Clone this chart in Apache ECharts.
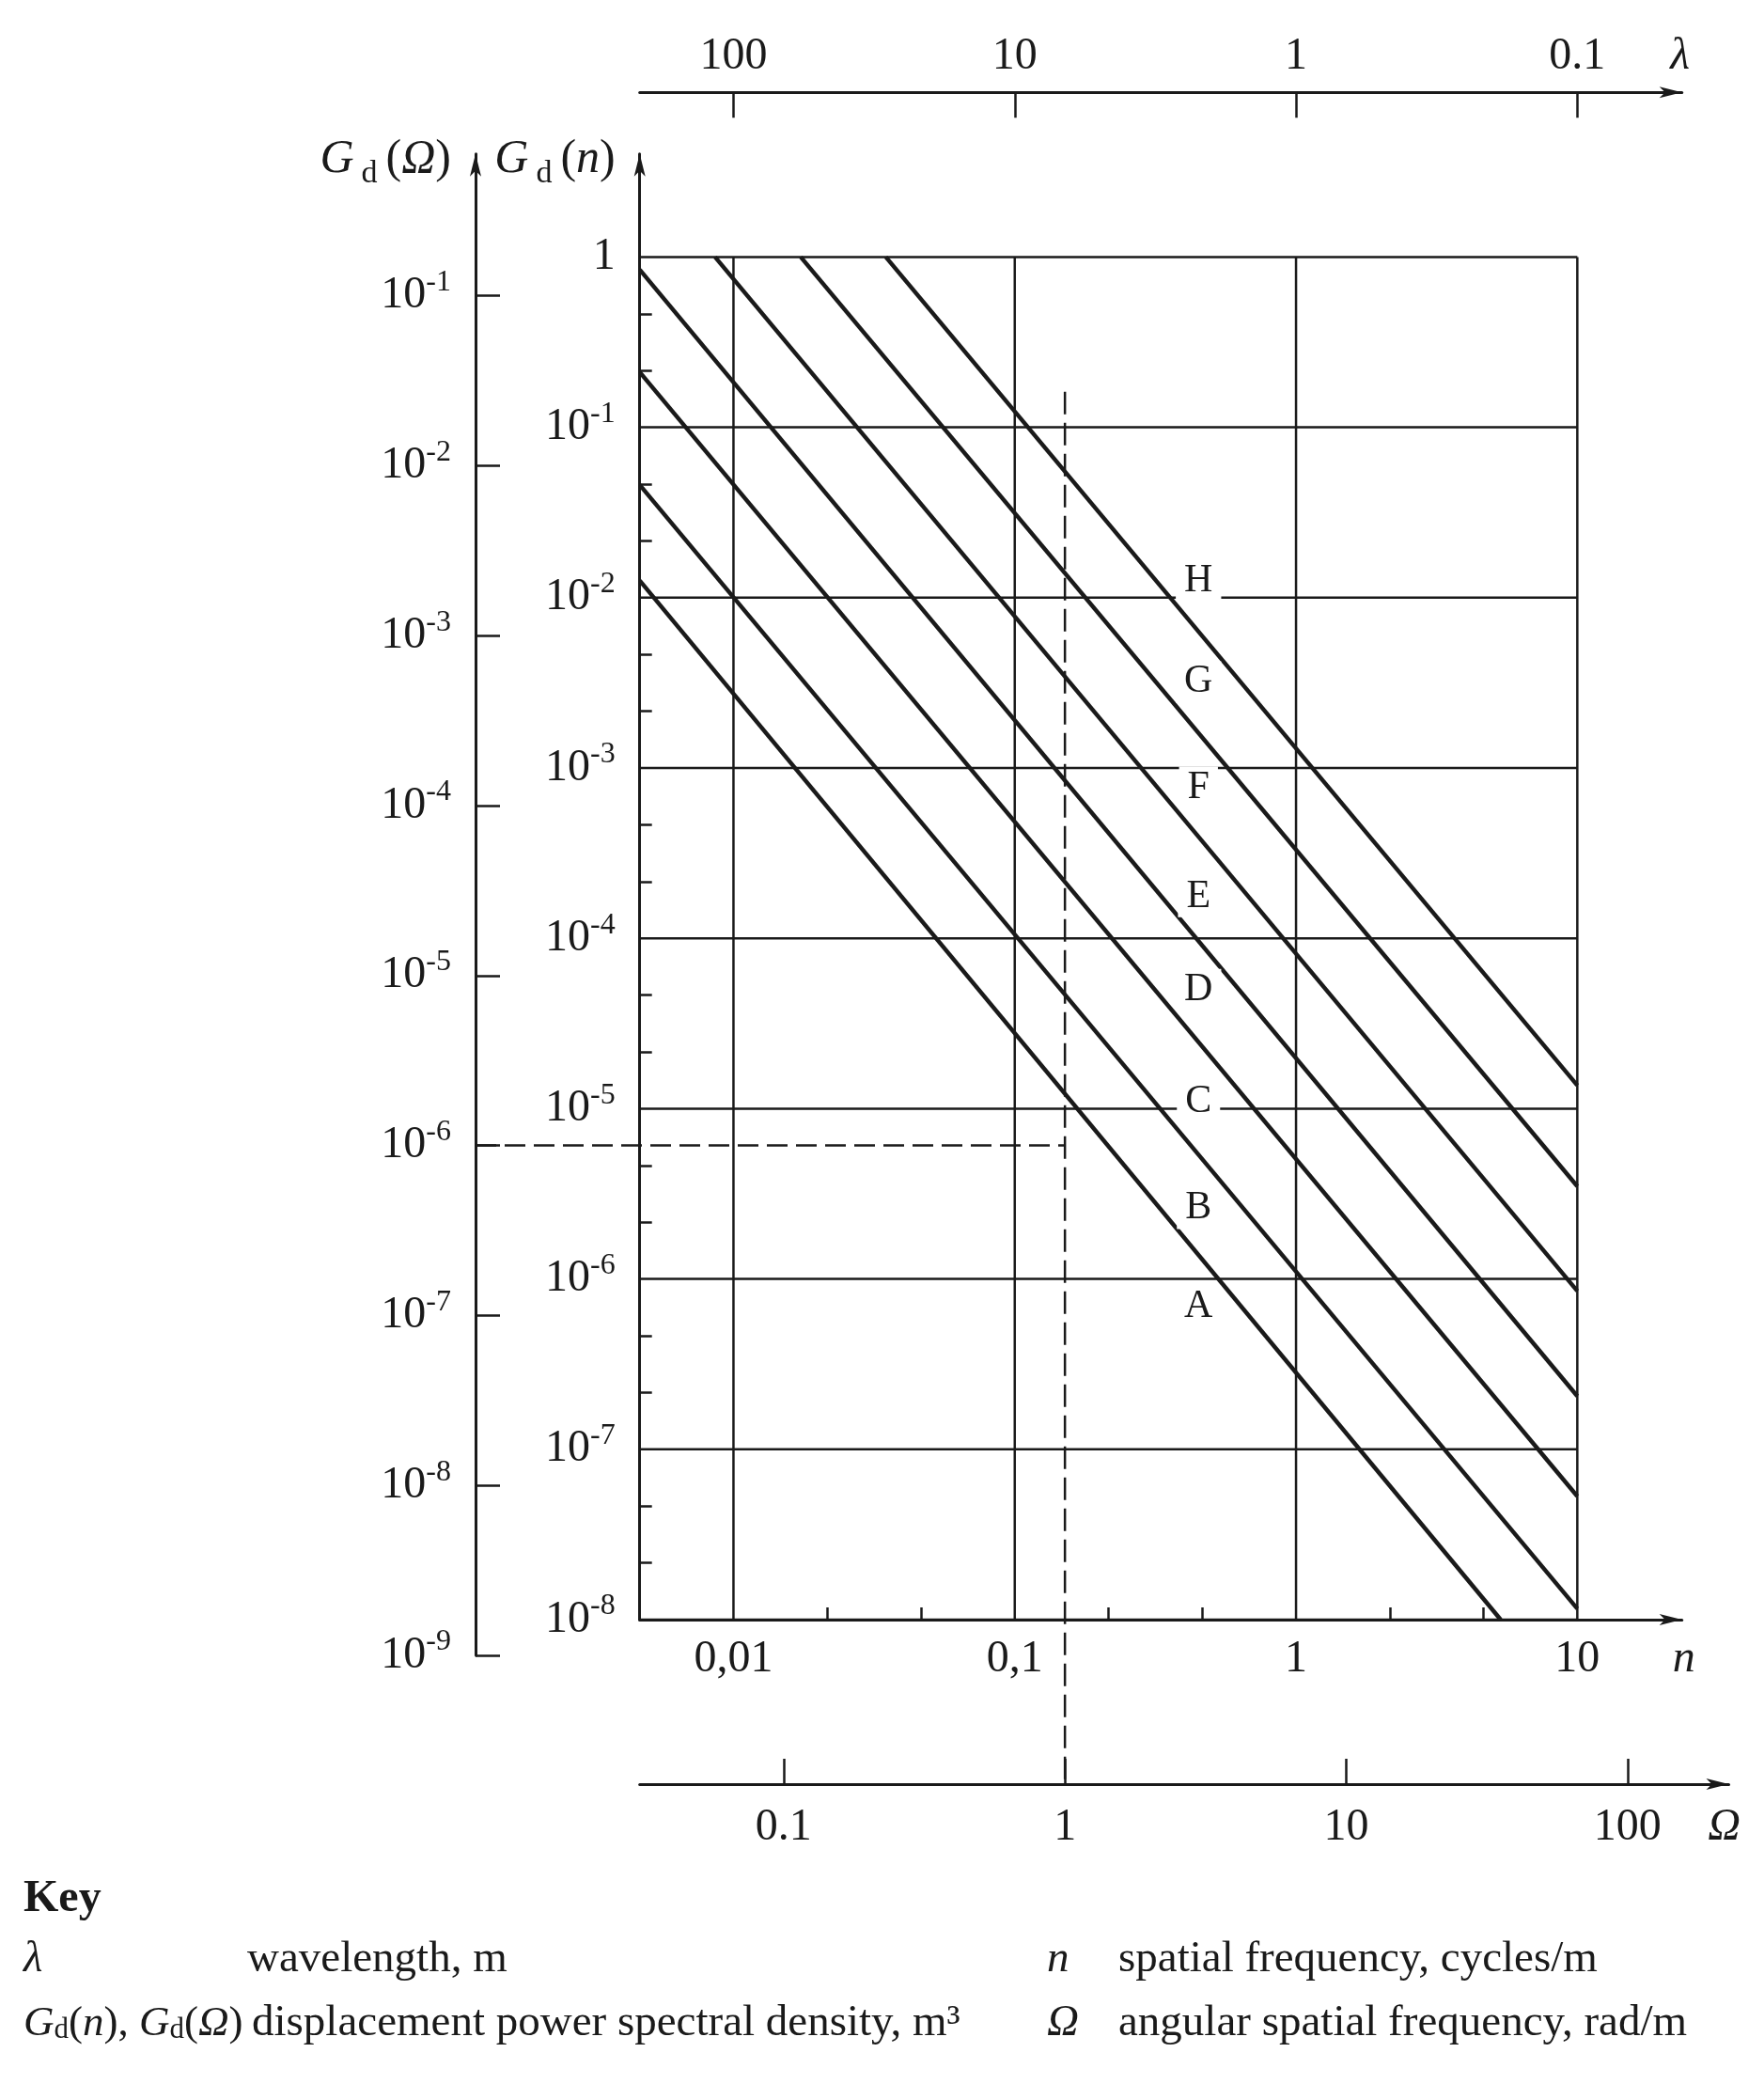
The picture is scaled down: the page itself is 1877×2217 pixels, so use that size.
<!DOCTYPE html>
<html>
<head>
<meta charset="utf-8">
<title>Road roughness classes</title>
<script src="https://cdn.jsdelivr.net/npm/echarts@6.0.0/dist/echarts.min.js"></script>
<style>
  html, body { margin: 0; padding: 0; background: #fff; }
  #main { width: 1877px; height: 2217px; }
</style>
</head>
<body>
<div id="main"></div>
<script>
// ===================== data =====================
const nTicks = [0.01, 0.1, 1, 10]
const nTickLabels = ['0,01', '0,1', '1', '10']
const lambdaTicks = [100, 10, 1, 0.1]
const lambdaTickLabels = ['100', '10', '1', '0.1']
const omegaTicks = [0.1, 1, 10, 100]
const omegaTickLabels = ['0.1', '1', '10', '100']
const gdTicks = [1, 1e-1, 1e-2, 1e-3, 1e-4, 1e-5, 1e-6, 1e-7, 1e-8]
const gdOmegaTicks = [1e-1, 1e-2, 1e-3, 1e-4, 1e-5, 1e-6, 1e-7, 1e-8, 1e-9]
const nMin = 0.004642 // left edge of the chart
// class limit lines A/B ... G/H, ends read off the frame
const limitStartN = [nMin, nMin, nMin, nMin, 0.0086, 0.01734, 0.0348]
const limitStartGd = [0.0126, 0.0459, 0.211, 0.843, 1, 1, 1]
const limitEndN = [5.34, 10, 10, 10, 10, 10, 10]
const limitEndGd = [1e-8, 1.16e-8, 5.3e-8, 2.05e-7, 8.5e-7, 3.5e-6, 1.37e-5]
const classNames = ['A', 'B', 'C', 'D', 'E', 'F', 'G', 'H']
const classLabelN = 0.45
const classLabelGd = [6.9e-7, 2.6e-6, 1.1e-5, 5.0e-5, 1.76e-4, 7.7e-4, 3.2e-3, 1.26e-2]
// dashed reading example
const exampleOmega = 1
const exampleGdOmega = 1e-6
const dashedTopGd = 0.162

// ===================== layout =====================
const FONT = '"Liberation Serif", "DejaVu Serif", serif'
const INK = '#1a1a1a'
const PX_X = 299.3 // px per decade, horizontal
const PX_Y = 181.2 // px per decade, vertical
const lg = Math.log10

const mainGrid = { left: 680.7, top: 163.7, width: 1109, height: 1559.3 }
const omegaGrid = { left: 680.7, top: 163.7, width: 1158.8, height: 1734.3 }
const gdOmegaGrid = { left: 506, top: 163.7, width: 627.6, height: 1597.3 }

const nMinLog = lg(nMin)
const nMaxLog = nMinLog + mainGrid.width / PX_X
const gdMinLog = lg(gdTicks[gdTicks.length - 1])
const gdMaxLog = gdMinLog + mainGrid.height / PX_Y
const omegaMinLog = -1.5117
const omegaMaxLog = omegaMinLog + omegaGrid.width / PX_X
const omegaGdMinLog = gdMaxLog - omegaGrid.height / PX_Y
const gdOmMinLog = lg(gdOmegaTicks[gdOmegaTicks.length - 1])
const gdOmMaxLog = gdOmMinLog + gdOmegaGrid.height / 180.8
const gdOmXMinLog = lg(exampleOmega) - gdOmegaGrid.width / PX_X

// minor ticks at thirds of a decade
const thirds = (decades) => {
  const out = []
  decades.slice(0, -1).forEach((d) => out.push(d + 1 / 3, d + 2 / 3))
  return out
}
const nMinor = thirds(nTicks.map(lg))
const gdMinor = thirds(gdTicks.map(lg).reverse())

const pick = (ticks, labels, v, toLog) =>
  labels[ticks.findIndex((t) => Math.abs(toLog(t) - v) < 1e-6)]

const supRich = {
  b: { fontSize: 48, fontFamily: FONT, color: INK, lineHeight: 60 },
  s: { fontSize: 32, fontFamily: FONT, color: INK, verticalAlign: 'top', lineHeight: 32 },
}
const powLabel = (v) => {
  const e = Math.round(v)
  return e === 0 ? '{b|1}' : '{b|10}{s|' + e + '}'
}
const titleRich = {
  g: { fontSize: 50, fontFamily: FONT, fontStyle: 'italic', color: INK, lineHeight: 64 },
  d: { fontSize: 34, fontFamily: FONT, color: INK, verticalAlign: 'bottom', lineHeight: 42, padding: [0, 9, 0, 8] },
  p: { fontSize: 50, fontFamily: FONT, color: INK, lineHeight: 64 },
}

const axisLine = (arrow) => ({
  show: true,
  onZero: false,
  symbol: arrow ? ['none', 'arrow'] : 'none',
  symbolSize: [9, 24],
  lineStyle: { color: INK, width: 3 },
})
const tickStyle = { color: INK, width: 2.5 }
const labelStyle = { fontSize: 48, fontFamily: FONT, color: INK }
const symbolName = { fontSize: 48, fontFamily: FONT, fontStyle: 'italic', color: INK }

// ===================== series =====================
const yTop = lg(gdTicks[0])
const xRight = lg(nTicks[nTicks.length - 1])
const gridLines = []
gdTicks.forEach((g) => gridLines.push([[nMinLog, lg(g)], [xRight, lg(g)]]))
nTicks.forEach((n) => gridLines.push([[lg(n), gdMinLog], [lg(n), yTop]]))

const series = []
gridLines.forEach((d) => {
  series.push({
    type: 'line', data: d, xAxisIndex: 0, yAxisIndex: 0, symbol: 'none', silent: true, z: 1,
    lineStyle: { color: INK, width: 2.5 },
  })
})
limitStartN.forEach((n, i) => {
  series.push({
    type: 'line', xAxisIndex: 0, yAxisIndex: 0, symbol: 'none', silent: true, z: 2,
    data: [[lg(n), lg(limitStartGd[i])], [lg(limitEndN[i]), lg(limitEndGd[i])]],
    lineStyle: { color: INK, width: 4.5 },
  })
})
series.push({
  type: 'line', xAxisIndex: 2, yAxisIndex: 1, symbol: 'none', silent: true, z: 2,
  data: [[lg(exampleOmega), lg(dashedTopGd)], [lg(exampleOmega), omegaGdMinLog]],
  lineStyle: { color: INK, width: 2.5, type: [24, 9] },
})
series.push({
  type: 'line', xAxisIndex: 3, yAxisIndex: 2, symbol: 'none', silent: true, z: 2,
  data: [[gdOmXMinLog, lg(exampleGdOmega)], [lg(exampleOmega), lg(exampleGdOmega)]],
  lineStyle: { color: INK, width: 2.5, type: [22, 9] },
})
series.push({
  type: 'scatter', xAxisIndex: 0, yAxisIndex: 0, symbolSize: 0, silent: true, z: 5,
  itemStyle: { opacity: 1 },
  data: classNames.map((c, i) => ({ name: c, value: [lg(classLabelN), lg(classLabelGd[i])] })),
  label: {
    show: true, position: 'inside', formatter: '{b}', opacity: 1,
    fontSize: 42, fontFamily: FONT, color: INK,
    backgroundColor: '#fff', padding: [2, 9, 0, 9],
  },
})

// ===================== key =====================
const keyText = (x, y, text, extra) => ({
  type: 'text', x, y,
  style: Object.assign({ text, fontSize: 47, fontFamily: FONT, fill: INK, verticalAlign: 'middle' }, extra || {}),
})
const keyRich = {
  i: { fontSize: 45, fontFamily: FONT, fontStyle: 'italic', fill: INK, color: INK },
  d: { fontSize: 31, fontFamily: FONT, fill: INK, color: INK, verticalAlign: 'bottom', lineHeight: 38 },
  r: { fontSize: 45, fontFamily: FONT, fill: INK, color: INK },
}

// ===================== init =====================
const myChart = echarts.init(document.getElementById('main'))
const option = {
  animation: false,
  backgroundColor: '#fff',
  textStyle: { fontFamily: FONT },
  grid: [
    Object.assign({ outerBoundsMode: 'none' }, mainGrid),
    Object.assign({ outerBoundsMode: 'none' }, omegaGrid),
    Object.assign({ outerBoundsMode: 'none' }, gdOmegaGrid),
  ],
  xAxis: [
    {
      // n, cycles/m
      type: 'value', gridIndex: 0, position: 'bottom', min: nMinLog, max: nMaxLog,
      axisLine: axisLine(true),
      axisTick: { customValues: nMinor, inside: true, length: 13, lineStyle: tickStyle },
      axisLabel: {
        customValues: nTicks.map(lg), margin: 18, ...labelStyle,
        formatter: (v) => pick(nTicks, nTickLabels, v, lg),
      },
      splitLine: { show: false },
      name: 'n', nameLocation: 'end', nameGap: 2, nameMoveOverlap: false,
      nameTextStyle: { ...symbolName, align: 'center', verticalAlign: 'top', padding: [18, 0, 0, 0] },
    },
    {
      // wavelength λ = 1/n
      type: 'value', gridIndex: 0, position: 'top', offset: 65.4, min: nMinLog, max: nMaxLog,
      axisLine: axisLine(true),
      axisTick: { customValues: lambdaTicks.map((t) => -lg(t)), inside: true, length: 27, lineStyle: tickStyle },
      axisLabel: {
        customValues: lambdaTicks.map((t) => -lg(t)), margin: 14, ...labelStyle,
        formatter: (v) => pick(lambdaTicks, lambdaTickLabels, v, (t) => -lg(t)),
      },
      splitLine: { show: false },
      name: 'λ', nameLocation: 'end', nameGap: -2, nameMoveOverlap: false,
      nameTextStyle: { ...symbolName, align: 'center', verticalAlign: 'bottom', padding: [0, 0, 14, 0] },
    },
    {
      // Ω, rad/m
      type: 'value', gridIndex: 1, position: 'bottom', min: omegaMinLog, max: omegaMaxLog,
      axisLine: axisLine(true),
      axisTick: { customValues: omegaTicks.map(lg), inside: true, length: 27, lineStyle: tickStyle },
      axisLabel: {
        customValues: omegaTicks.map(lg), margin: 22, ...labelStyle,
        formatter: (v) => pick(omegaTicks, omegaTickLabels, v, lg),
      },
      splitLine: { show: false },
      name: 'Ω', nameLocation: 'end', nameGap: -5, nameMoveOverlap: false,
      nameTextStyle: { ...symbolName, align: 'center', verticalAlign: 'top', padding: [22, 0, 0, 0] },
    },
    {
      type: 'value', gridIndex: 2, show: false, min: gdOmXMinLog, max: lg(exampleOmega),
    },
  ],
  yAxis: [
    {
      // Gd(n)
      type: 'value', gridIndex: 0, position: 'left', min: gdMinLog, max: gdMaxLog,
      axisLine: axisLine(true),
      axisTick: { customValues: gdMinor, inside: true, length: 13, lineStyle: tickStyle },
      axisLabel: { customValues: gdTicks.map(lg), margin: 26, formatter: powLabel, rich: supRich },
      splitLine: { show: false },
      name: '{g|G}{d|d}{p|(}{g|n}{p|)}', nameLocation: 'end', nameGap: -6, nameMoveOverlap: false,
      nameTextStyle: { align: 'right', verticalAlign: 'middle', padding: [0, 26, 0, 0], rich: titleRich },
    },
    {
      type: 'value', gridIndex: 1, show: false, min: omegaGdMinLog, max: gdMaxLog,
    },
    {
      // Gd(Ω)
      type: 'value', gridIndex: 2, position: 'left', min: gdOmMinLog, max: gdOmMaxLog,
      axisLine: axisLine(true),
      axisTick: { customValues: gdOmegaTicks.map(lg), inside: true, length: 26, lineStyle: tickStyle },
      axisLabel: { customValues: gdOmegaTicks.map(lg), margin: 26, formatter: powLabel, rich: supRich },
      splitLine: { show: false },
      name: '{g|G}{d|d}{p|(}{g|Ω}{p|)}', nameLocation: 'end', nameGap: -6, nameMoveOverlap: false,
      nameTextStyle: { align: 'right', verticalAlign: 'middle', padding: [0, 26, 0, 0], rich: titleRich },
    },
  ],
  series,
  graphic: [
    keyText(25, 2021, 'Key', { fontWeight: 'bold', fontSize: 48 }),
    keyText(25, 2085, 'λ', { fontStyle: 'italic' }),
    keyText(263, 2085, 'wavelength, m'),
    keyText(1114, 2085, 'n', { fontStyle: 'italic' }),
    keyText(1190, 2085, 'spatial frequency, cycles/m'),
    keyText(25, 2153, '{i|G}{d|d}{r|(}{i|n}{r|), }{i|G}{d|d}{r|(}{i|Ω}{r|)}', { rich: keyRich }),
    keyText(268, 2153, 'displacement power spectral density, m³'),
    keyText(1114, 2153, 'Ω', { fontStyle: 'italic' }),
    keyText(1190, 2153, 'angular spatial frequency, rad/m'),
  ],
}
myChart.setOption(option)
</script>
</body>
</html>
